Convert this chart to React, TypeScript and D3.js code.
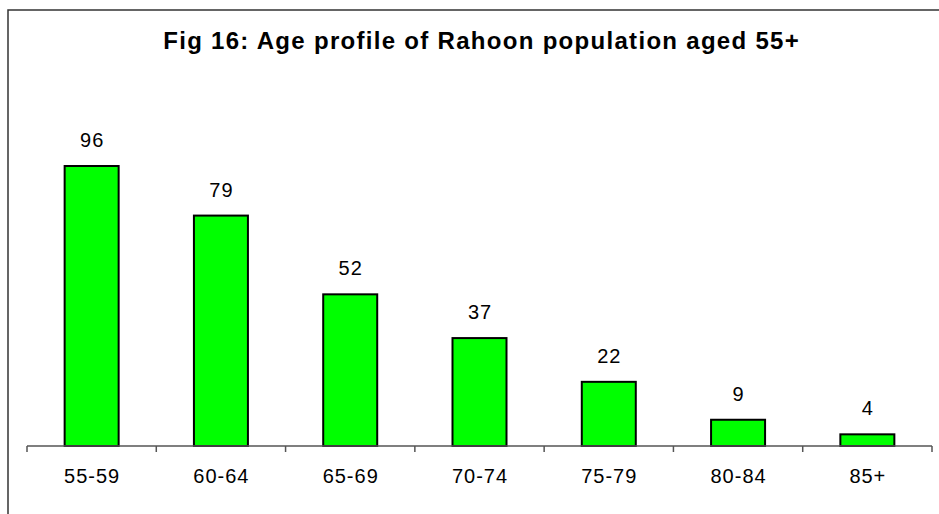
import React from "react";
import * as d3 from "d3";

const categories = ["55-59", "60-64", "65-69", "70-74", "75-79", "80-84", "85+"];
const values = [96, 79, 52, 37, 22, 9, 4];
const title = "Fig 16: Age profile of Rahoon population aged 55+";

const W = 939;
const H = 514;
const x0 = 27;
const x1 = 932;
const baseY = 446;

export default function App() {
  const x = d3.scaleBand<string>().domain(categories).range([x0, x1]).paddingInner(0).paddingOuter(0);
  const y = d3.scaleLinear().domain([0, 120]).range([baseY, 96]);
  const barW = 54;
  const font = "Arial, 'Liberation Sans', sans-serif";
  const ticks = d3.range(categories.length + 1).map((i) => x0 + i * x.bandwidth());
  const ls = 1.0;
  const tls = 1.3;
  return (
    <svg width={W} height={H} style={{ position: "absolute", left: 0, top: 0, background: "#fff" }}>
      <rect x={8} y={10} width={W + 10} height={H + 10} fill="#fff" stroke="#333" strokeWidth={1.5} />
      <text x={481 + tls / 2} y={49} textAnchor="middle" fontFamily={font} fontWeight="bold" fontSize={24} letterSpacing={tls} fill="#000">
        {title}
      </text>
      {categories.map((c, i) => {
        const cx = (x(c) as number) + x.bandwidth() / 2;
        const top = y(values[i]);
        return (
          <g key={c}>
            <rect x={cx - barW / 2} y={top} width={barW} height={baseY - top} fill="#00ff00" stroke="#000" strokeWidth={2} />
            <text x={cx + ls / 2} y={top - 19} textAnchor="middle" fontFamily={font} fontSize={20} letterSpacing={ls} fill="#000">
              {values[i]}
            </text>
            <text x={cx + ls / 2} y={483} textAnchor="middle" fontFamily={font} fontSize={20} letterSpacing={ls} fill="#000">
              {c}
            </text>
          </g>
        );
      })}
      <line x1={x0} x2={x1} y1={baseY} y2={baseY} stroke="#555" strokeWidth={1.5} />
      {ticks.map((t, i) => (
        <line key={i} x1={t} x2={t} y1={baseY} y2={baseY + 6} stroke="#555" strokeWidth={1.5} />
      ))}
    </svg>
  );
}
